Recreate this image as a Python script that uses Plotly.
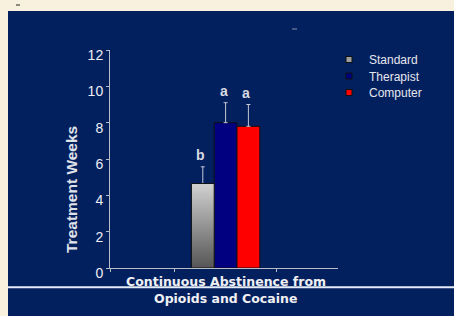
import plotly.graph_objects as go

# ---- data ----
x_label_lines = ["Continuous Abstinence from", "Opioids and Cocaine"]
groups = ["Standard", "Therapist", "Computer"]
weeks = [4.65, 8.0, 7.8]
sem = [0.92, 1.1, 1.2]
letters = ["b", "a", "a"]
y_ticks = [0, 2, 4, 6, 8, 10, 12]

# ---- style ----
W, H = 454, 316
L, R, T, B = 110, 116, 50, 48
pw, ph = W - L - R, H - T - B
NAVY = "#03205e"
CREAM = "#f8f1de"
LIGHT = "#eeeef4"
AXIS = "#b8bcc8"
bar_colors = ["#9a9a9a", "#000080", "#ff0000"]
legend_colors = ["#a0a0a0", "#000080", "#ff0000"]
legend_rows = [59, 75.5, 92]
bar_w = 0.1
offsets = [-0.15, -0.05, 0.05]


def px(x):
    return (x - L) / pw


def py(y):
    return (H - B - y) / ph


fig = go.Figure()

for i, g in enumerate(groups):
    fig.add_trace(go.Bar(
        x=[0], y=[weeks[i]], width=bar_w, offset=offsets[i],
        marker=dict(color=bar_colors[i], line=dict(color="#101018", width=1)),
        error_y=dict(type="data", array=[sem[i]], arrayminus=[0], symmetric=False,
                     color="#c4c8d4", thickness=1, width=2),
        showlegend=False, hoverinfo="skip", name=g,
    ))

# gradient fill for the Standard bar, built from its value
x0 = offsets[0]
x1 = offsets[0] + bar_w
fig.add_trace(go.Scatter(
    x=[x0, x1, x1, x0, x0], y=[0, 0, weeks[0], weeks[0], 0],
    mode="lines", fill="toself",
    fillgradient=dict(type="vertical", colorscale=[[0, "#555555"], [1, "#d2d2d2"]]),
    line=dict(color="#101018", width=1),
    showlegend=False, hoverinfo="skip",
))

# legend entries (one small legend per row to match the tight spacing)
legend_names = ["legend", "legend2", "legend3"]
for i, g in enumerate(groups):
    fig.add_trace(go.Scatter(
        x=[None], y=[None], mode="markers", name=g, showlegend=True,
        legend=legend_names[i],
        marker=dict(symbol="square", size=6, color=legend_colors[i],
                    line=dict(color="#111111", width=1)),
    ))

annotations = []
for i, t in enumerate(letters):
    annotations.append(dict(
        x=offsets[i] + bar_w / 2, y=weeks[i] + sem[i], xref="x", yref="y",
        text=t, showarrow=False, yanchor="bottom", yshift=2, xshift=-2,
        font=dict(family="Liberation Sans", size=14, color="#d8dae2", weight="bold"),
    ))
for j, (line, ypix) in enumerate(zip(x_label_lines, [281, 298])):
    annotations.append(dict(
        x=0, y=py(ypix), xref="x", yref="paper", text=line, showarrow=False,
        yanchor="middle",
        font=dict(family="DejaVu Sans", size=12.5, color="#f0f0f4", weight="bold"),
    ))
annotations.append(dict(
    x=px(72), y=py(190), xref="paper", yref="paper", text="<b>Treatment Weeks</b>",
    textangle=-90, showarrow=False, xanchor="center", yanchor="middle",
    font=dict(family="Liberation Sans", size=15.5, color="#e0e2ea"),
))

shapes = [
    dict(type="rect", xref="paper", yref="paper", x0=px(8), x1=px(W + 2),
         y0=py(H + 2), y1=py(11), fillcolor=NAVY, line=dict(width=0), layer="below"),
    dict(type="line", xref="paper", yref="paper", x0=px(8), x1=px(W + 2),
         y0=py(287.3), y1=py(287.3), line=dict(color="#e4ecf8", width=2)),
    dict(type="line", xref="paper", yref="paper", x0=px(16), x1=px(20),
         y0=py(5), y1=py(5), line=dict(color="#222222", width=1)),
    dict(type="line", xref="paper", yref="paper", x0=px(292), x1=px(297),
         y0=py(29), y1=py(29), line=dict(color="#8890a8", width=1)),
]

legend_style = dict(xanchor="left", yanchor="top", bgcolor="rgba(0,0,0,0)",
                    borderwidth=0,
                    font=dict(family="Liberation Sans", size=12, color="#e6e6ee"))
legends = {}
for name, row in zip(legend_names, legend_rows):
    legends[name] = dict(x=px(329), y=py(row - 14), **legend_style)

fig.update_layout(
    width=W, height=H, autosize=False,
    margin=dict(l=L, r=R, t=T, b=B, pad=0),
    paper_bgcolor=CREAM, plot_bgcolor="rgba(0,0,0,0)",
    barmode="group",
    annotations=annotations, shapes=shapes,
    xaxis=dict(range=[-0.507, 0.493], showgrid=False, zeroline=False,
               showline=True, linecolor=AXIS, linewidth=1,
               tickvals=[], ticks="",
               minor=dict(tickmode="array", tickvals=[-0.507, -0.225, 0.225],
                          ticks="outside", ticklen=3, tickcolor=AXIS, showgrid=False),
               fixedrange=True),
    yaxis=dict(range=[0, 12], tickvals=y_ticks, showgrid=False, zeroline=False,
               showline=True, linecolor=AXIS, linewidth=1,
               ticks="outside", ticklen=3, tickcolor=AXIS, ticklabelshift=5,
               tickfont=dict(family="Liberation Sans", size=14, color=LIGHT),
               fixedrange=True),
    **legends,
)

fig.write_html(
    "out.html",
    config={"displayModeBar": False},
    post_script="document.body.style.margin='0';document.body.style.background='" + CREAM + "';",
)
